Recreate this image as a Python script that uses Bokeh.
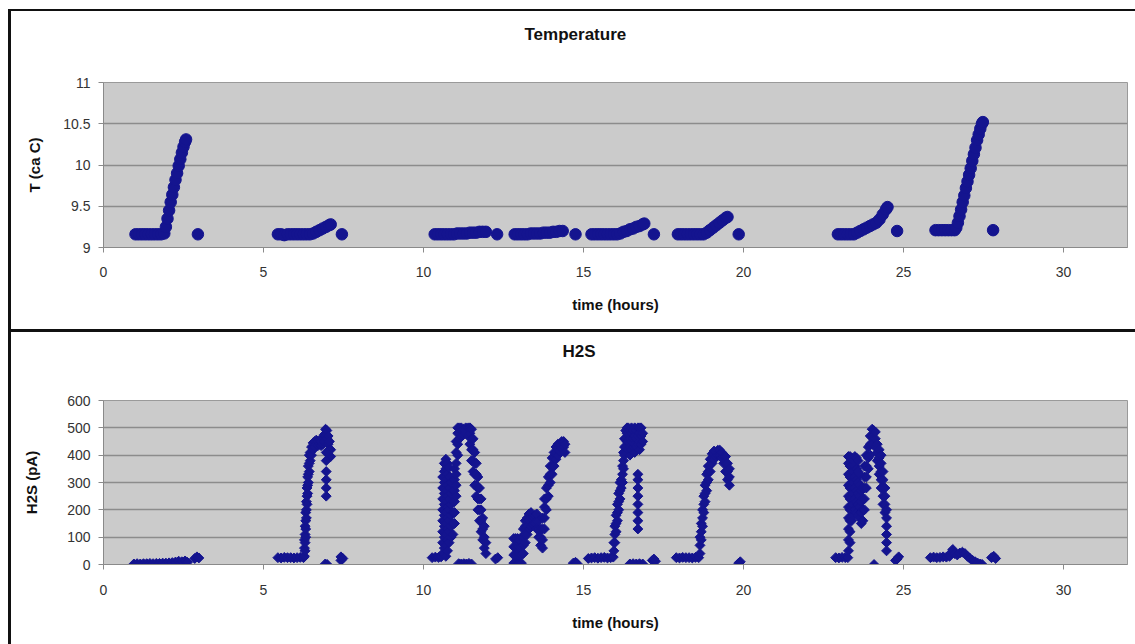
import math
from bokeh.plotting import figure
from bokeh.layouts import column
from bokeh.models import FixedTicker, CustomJSTickFormatter, ColumnDataSource, Title
from bokeh.embed import file_html
from bokeh.resources import INLINE

# ---------------- data ----------------
x_ticks = [0, 5, 10, 15, 20, 25, 30]
temp_ticks = [9, 9.5, 10, 10.5, 11]
h2s_ticks = [0, 100, 200, 300, 400, 500, 600]

temp_time = [
    1.0, 1.1, 1.2, 1.3, 1.4, 1.5, 1.6, 1.7, 1.8, 1.9, 1.95, 2.0, 2.05, 2.1, 2.15, 2.2, 2.25,
    2.3, 2.35, 2.4, 2.45, 2.5, 2.55, 2.58, 2.95,
    5.45, 5.55, 5.65, 5.75, 5.85, 5.95, 6.05, 6.15, 6.25, 6.35, 6.45, 6.55, 6.65, 6.75, 6.85,
    6.95, 7.05, 7.1, 7.45,
    10.35, 10.45, 10.55, 10.65, 10.75, 10.85, 10.95, 11.05, 11.15, 11.25, 11.35, 11.45, 11.55,
    11.65, 11.75, 11.85, 11.95, 12.3,
    12.85, 12.95, 13.05, 13.15, 13.25, 13.35, 13.45, 13.55, 13.65, 13.75, 13.85, 13.95, 14.05,
    14.15, 14.25, 14.35, 14.75,
    15.25, 15.35, 15.45, 15.55, 15.65, 15.75, 15.85, 15.95, 16.05, 16.15, 16.25, 16.35, 16.45,
    16.55, 16.65, 16.75, 16.85, 16.9, 17.2,
    17.95, 18.05, 18.15, 18.25, 18.35, 18.45, 18.55, 18.65, 18.75, 18.85, 18.95, 19.05, 19.15,
    19.25, 19.35, 19.45, 19.5, 19.85,
    22.95, 23.05, 23.15, 23.25, 23.35, 23.45, 23.55, 23.65, 23.75, 23.85, 23.95, 24.05, 24.15,
    24.25, 24.35, 24.45, 24.5, 24.8,
    26.0, 26.1, 26.2, 26.3, 26.4, 26.5, 26.6, 26.65, 26.7, 26.75, 26.8, 26.85, 26.9, 26.95,
    27.0, 27.05, 27.1, 27.15, 27.2, 27.25, 27.3, 27.35, 27.4, 27.45, 27.48, 27.8,
]
temp_value = [
    9.16, 9.16, 9.16, 9.16, 9.16, 9.16, 9.16, 9.16, 9.16, 9.17, 9.25, 9.35, 9.45, 9.55, 9.64,
    9.73, 9.82, 9.9, 9.99, 10.07, 10.15, 10.22, 10.28, 10.31, 9.16,
    9.16, 9.16, 9.15, 9.16, 9.16, 9.16, 9.16, 9.16, 9.16, 9.16, 9.16, 9.17, 9.19, 9.21, 9.23,
    9.25, 9.27, 9.28, 9.16,
    9.16, 9.16, 9.16, 9.16, 9.16, 9.16, 9.16, 9.17, 9.17, 9.17, 9.17, 9.18, 9.18, 9.18, 9.19,
    9.19, 9.19, 9.16,
    9.16, 9.16, 9.16, 9.16, 9.16, 9.17, 9.17, 9.17, 9.17, 9.18, 9.18, 9.18, 9.19, 9.19, 9.2,
    9.2, 9.16,
    9.16, 9.16, 9.16, 9.16, 9.16, 9.16, 9.16, 9.16, 9.16, 9.17, 9.19, 9.2, 9.22, 9.23, 9.25,
    9.26, 9.28, 9.29, 9.16,
    9.16, 9.16, 9.16, 9.16, 9.16, 9.16, 9.16, 9.16, 9.16, 9.18, 9.21, 9.24, 9.27, 9.3, 9.33,
    9.36, 9.37, 9.16,
    9.16, 9.16, 9.16, 9.16, 9.16, 9.16, 9.18, 9.2, 9.22, 9.24, 9.26, 9.28, 9.3, 9.34, 9.4,
    9.46, 9.49, 9.2,
    9.21, 9.21, 9.21, 9.21, 9.21, 9.21, 9.21, 9.24, 9.3, 9.38, 9.46, 9.55, 9.63, 9.72, 9.8,
    9.88, 9.96, 10.05, 10.13, 10.21, 10.3, 10.37, 10.44, 10.5, 10.52, 9.21,
]

# H2S bursts: each entry is (time in hours, [currents in pA read at that time])
h2s_burst_1 = [
    (0.95, [2]), (1.05, [3]), (1.15, [2]), (1.25, [3]), (1.35, [3]), (1.45, [4]), (1.55, [3]),
    (1.65, [4]), (1.75, [4]), (1.85, [5]), (1.95, [5]), (2.05, [6]), (2.15, [7]), (2.25, [9]),
    (2.35, [12]), (2.45, [10]), (2.55, [13]), (2.62, [8]), (2.85, [22]), (2.92, [28]),
    (2.98, [24]),
]
h2s_burst_2 = [
    (5.45, [25]), (5.55, [24]), (5.65, [26]), (5.75, [25]), (5.85, [25]), (5.95, [24]),
    (6.05, [25]), (6.15, [26]), (6.25, [25]),
    (6.28, [30, 60, 90]), (6.3, [50, 80, 110, 140]), (6.32, [100, 130, 160, 190]),
    (6.34, [170, 200, 230]), (6.36, [220, 250, 280]), (6.38, [260, 290, 320]),
    (6.4, [300, 330, 360]), (6.43, [340, 370, 400]), (6.46, [380, 410]), (6.5, [400, 430]),
    (6.55, [420, 445]), (6.6, [430, 450]), (6.65, [440, 455]), (6.7, [435, 450]),
    (6.75, [440, 455]), (6.8, [435, 450]), (6.85, [440, 460]), (6.9, [450, 475]),
    (6.94, [470, 495]), (6.98, [460, 490]), (7.02, [440, 470]), (7.06, [420, 450]),
    (7.1, [395, 420]), (6.96, [250, 280, 310, 340, 380, 410]),
    (6.93, [2]), (6.99, [0]), (7.42, [15, 28]), (7.48, [22]),
]
h2s_burst_3 = [
    (10.27, [25]), (10.37, [27]), (10.47, [26]), (10.55, [28]),
    (10.6, [40, 80, 120, 160, 200, 240, 280, 320]),
    (10.65, [60, 100, 140, 180, 220, 260, 300, 340, 370]),
    (10.7, [30, 70, 110, 150, 190, 230, 270, 310, 350, 385]),
    (10.75, [50, 90, 130, 170, 210, 250, 290, 330, 370]),
    (10.8, [80, 120, 160, 200, 240, 280, 320, 355]),
    (10.86, [100, 140, 180, 220, 260, 300]),
    (10.92, [110, 150, 190, 230, 270]),
    (10.97, [150, 190, 230, 270, 310, 350]),
    (11.02, [250, 290, 330, 370, 410, 450]),
    (11.07, [400, 440, 480, 500]), (11.12, [460, 500]), (11.18, [470, 500]),
    (11.25, [475, 495]), (11.32, [480, 500]), (11.4, [470, 500]), (11.45, [440, 480, 500]),
    (11.5, [380, 420, 460, 495]), (11.55, [340, 380, 420, 460]), (11.6, [290, 330, 370, 410]),
    (11.65, [250, 290, 330, 370]), (11.7, [200, 240, 280, 320]), (11.75, [160, 200, 240, 280]),
    (11.8, [120, 160, 200, 240]), (11.85, [90, 130, 170]), (11.9, [60, 100, 140]),
    (11.95, [40, 80]),
    (11.1, [3]), (11.18, [2]), (11.26, [3]), (11.34, [2]), (11.42, [4]), (11.5, [2]),
    (12.25, [20]), (12.32, [25]),
]
h2s_burst_4 = [
    (12.82, [5, 35, 65, 95]), (12.88, [5, 35, 65, 95]), (12.94, [5, 35, 65, 95]),
    (13.0, [5, 35, 65, 90]), (13.06, [5, 35, 65, 100]), (13.12, [40, 70, 100, 130]),
    (13.18, [80, 110, 140, 160]), (13.24, [110, 140, 170]), (13.3, [130, 160, 185]),
    (13.36, [140, 170, 190]), (13.42, [145, 175]), (13.48, [150, 180]),
    (13.54, [130, 160, 185]), (13.6, [100, 130, 160]), (13.66, [70, 100, 130]),
    (13.72, [60, 90, 130, 170]), (13.78, [130, 170, 210, 240]), (13.84, [200, 240, 280]),
    (13.9, [250, 290, 320]), (13.96, [300, 330, 360]), (14.02, [330, 360, 390]),
    (14.08, [360, 390, 410]), (14.14, [385, 410, 430]), (14.2, [400, 425, 440]),
    (14.26, [415, 440]), (14.32, [425, 450]), (14.38, [430, 450]), (14.42, [410, 440]),
    (14.68, [5]), (14.75, [8]), (14.8, [3]),
]
h2s_burst_5 = [
    (15.15, [22]), (15.25, [24]), (15.35, [25]), (15.45, [23]), (15.55, [25]), (15.65, [26]),
    (15.75, [24]), (15.85, [25]), (15.93, [27]),
    (15.95, [50, 80]), (15.98, [80, 110, 140]), (16.02, [120, 150, 180]),
    (16.06, [160, 190, 220]), (16.1, [200, 230, 260]), (16.14, [240, 270, 300]),
    (16.18, [280, 310]), (16.22, [300, 330, 360]), (16.25, [350, 380, 410]),
    (16.28, [400, 430, 460]), (16.32, [430, 460, 490]), (16.36, [450, 480, 500]),
    (16.4, [420, 450, 480, 500]), (16.45, [400, 430, 460, 490]), (16.5, [420, 450, 480, 500]),
    (16.55, [430, 460, 490]), (16.6, [410, 440, 470, 500]), (16.65, [430, 460, 490]),
    (16.7, [440, 470, 500]), (16.75, [420, 450, 480, 500]), (16.8, [440, 470, 500]),
    (16.85, [450, 480]), (16.7, [130, 160, 190, 220, 250, 280, 310, 330]),
    (16.45, [2]), (16.55, [3]), (16.65, [2]), (16.75, [3]), (16.85, [2]),
    (17.15, [15]), (17.2, [20]), (17.25, [12]),
]
h2s_burst_6 = [
    (17.9, [25]), (18.0, [24]), (18.1, [26]), (18.2, [25]), (18.3, [25]), (18.4, [24]),
    (18.5, [26]), (18.6, [25]),
    (18.64, [40, 70, 100]), (18.68, [90, 120, 150]), (18.72, [140, 170, 200]),
    (18.76, [190, 220, 250]), (18.8, [230, 260, 290]), (18.85, [270, 300, 330]),
    (18.9, [310, 340, 360]), (18.96, [340, 365, 385]), (19.02, [370, 390, 405]),
    (19.08, [385, 405, 415]), (19.14, [395, 412]), (19.2, [400, 418]), (19.26, [400, 418]),
    (19.32, [390, 410]), (19.38, [370, 395]), (19.44, [340, 370, 395]),
    (19.5, [310, 340, 370]), (19.56, [290, 320, 350]),
    (19.85, [5]), (19.9, [10]),
]
h2s_burst_7 = [
    (22.88, [25]), (22.98, [24]), (23.08, [26]), (23.18, [25]), (23.26, [25]),
    (23.28, [50, 90, 130, 170, 210, 250, 290, 330, 370, 395]),
    (23.33, [80, 120, 160, 200, 240, 280, 320, 360, 395]),
    (23.38, [160, 200, 240, 280, 320, 360, 390]),
    (23.43, [180, 220, 260, 300, 340, 380]),
    (23.48, [200, 240, 280, 320, 360, 395]),
    (23.53, [190, 230, 270, 310, 350, 390]),
    (23.58, [180, 220, 260, 300, 340, 380]),
    (23.63, [170, 210, 250, 290, 330]),
    (23.68, [150, 190, 230, 270]),
    (23.73, [160, 200, 240, 280]),
    (23.78, [200, 240, 280, 320, 360]),
    (23.84, [280, 320, 360, 400]),
    (23.9, [350, 390, 430]),
    (23.96, [400, 440, 470]),
    (24.02, [440, 470, 495]),
    (24.07, [460, 490]),
    (24.12, [430, 460, 485]),
    (24.18, [380, 410, 440]),
    (24.24, [330, 360, 390, 420]),
    (24.3, [280, 310, 340, 370, 400]),
    (24.36, [220, 250, 280, 310, 340]),
    (24.42, [190, 220, 250, 280]),
    (24.47, [50, 80, 110, 140, 170, 200]),
    (24.08, [0]), (24.75, [15]), (24.8, [20]), (24.85, [28]),
]
h2s_burst_8 = [
    (25.84, [25]), (25.94, [27]), (26.04, [25]), (26.14, [26]), (26.24, [28]), (26.34, [27]),
    (26.44, [30]), (26.5, [45]), (26.54, [55]), (26.6, [40]), (26.68, [35]), (26.76, [42]),
    (26.84, [45]), (26.92, [40]), (27.0, [30]), (27.08, [22]), (27.16, [15]), (27.24, [10]),
    (27.32, [5]), (27.4, [2]), (27.46, [0]),
    (27.75, [25]), (27.82, [30]), (27.88, [22]),
]
h2s_bursts = [h2s_burst_1, h2s_burst_2, h2s_burst_3, h2s_burst_4,
              h2s_burst_5, h2s_burst_6, h2s_burst_7, h2s_burst_8]

# ---------------- styling ----------------
FONT = "Liberation Sans"
MARK = "#14148F"
PLOT_BG = "#CBCBCB"
GRID = "#8C8C8C"


def make_fig(height, borders, y_range, yticks, title, ylabel, title_off, gap, frame_box):
    left, right, top, bottom = borders
    p = figure(width=1135, height=height, x_range=(0, 32), y_range=y_range, title=None,
               output_backend="svg", toolbar_location=None,
               min_border_left=left, min_border_right=right,
               min_border_top=top, min_border_bottom=bottom)
    p.background_fill_color = PLOT_BG
    p.border_fill_color = None
    p.outline_line_color = "#9A9A9A"
    p.outline_line_width = 1
    p.styles = {"box-shadow": frame_box}

    # spacer (closest to the plot area) then the real chart title above it
    p.add_layout(Title(text=" ", text_font_size="1px", standoff=gap), "above")
    p.add_layout(Title(text=title, align="left", offset=title_off, standoff=0,
                       text_font=FONT, text_font_size="17px", text_font_style="bold",
                       text_color="#111111"), "above")

    fmt = CustomJSTickFormatter(code="return tick.toString();")
    for ax, ticks in ((p.xaxis[0], x_ticks), (p.yaxis[0], yticks)):
        ax.ticker = FixedTicker(ticks=ticks)
        ax.formatter = fmt
        ax.minor_tick_line_color = None
        ax.major_tick_in = 0
        ax.major_tick_out = 5
        ax.major_tick_line_color = "#8A8A8A"
        ax.axis_line_color = "#8A8A8A"
        ax.major_label_text_font = FONT
        ax.major_label_text_font_size = "14px"
        ax.major_label_text_color = "#333333"
        ax.axis_label_text_font = FONT
        ax.axis_label_text_font_size = "15px"
        ax.axis_label_text_font_style = "bold"
        ax.axis_label_text_color = "#111111"
    p.xaxis.axis_label = "time (hours)"
    p.yaxis.axis_label = ylabel
    p.xgrid.grid_line_color = None
    p.ygrid.ticker = FixedTicker(ticks=yticks)
    p.ygrid.grid_line_color = GRID
    p.ygrid.grid_line_width = 1.5
    return p


p1 = make_fig(330, (103, 7, 82, 83), (9, 11), temp_ticks, "Temperature", "T (ca C)",
              421, 36,
              "inset 8px 0 0 0 #ffffff, inset 0 9px 0 0 #ffffff, "
              "inset 11px 0 0 0 #111111, inset 0 11px 0 0 #111111, inset 0 -1px 0 0 #111111")
p1.xaxis.major_label_standoff = 14
p1.xaxis.axis_label_standoff = 16
p1.yaxis.major_label_standoff = 8
p1.yaxis.axis_label_standoff = 17

src1 = ColumnDataSource(dict(x=temp_time, y=temp_value))
p1.scatter("x", "y", source=src1, marker="circle", size=11.5,
           fill_color=MARK, line_color=MARK)

p2 = make_fig(314, (98, 8, 70, 80), (0, 600), h2s_ticks, "H2S", "H2S (pA)",
              459, 37,
              "inset 8px 0 0 0 #ffffff, inset 11px 0 0 0 #111111, inset 0 2px 0 0 #111111")
p2.xaxis.major_label_standoff = 15
p2.xaxis.axis_label_standoff = 16
p2.yaxis.major_label_standoff = 8
p2.yaxis.axis_label_standoff = 24

h2s_time = [t for b in h2s_bursts for t, vals in b for _ in vals]
h2s_value = [v for b in h2s_bursts for _, vals in b for v in vals]
src2 = ColumnDataSource(dict(x=h2s_time, y=h2s_value))
p2.scatter("x", "y", source=src2, marker="square", angle=math.pi / 4, size=7,
           fill_color=MARK, line_color=MARK)

layout = column(p1, p2, spacing=0)
open("out.html", "w").write(file_html(layout, INLINE))
